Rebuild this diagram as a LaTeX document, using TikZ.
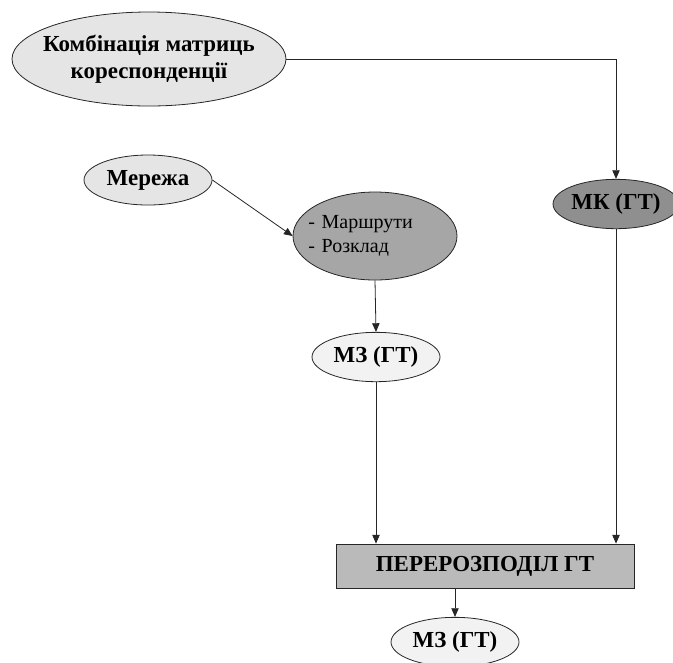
\documentclass[tikz,border=0pt]{standalone}
\usepackage{fontspec}
\setmainfont{Liberation Serif}
\usetikzlibrary{shapes.geometric}
\usetikzlibrary{arrows.meta}
\usetikzlibrary{calc}

\tikzset{
	oval/.style={ellipse, draw=black!85, line width=0.6pt, inner xsep=-10pt, inner ysep=0pt,
		font=\fontsize{17.2}{20.5}\selectfont\bfseries, align=center},
	box/.style={rectangle, draw=black!85, line width=0.6pt,
		font=\fontsize{17.2}{20.5}\selectfont\bfseries},
	arr/.style={-{Triangle[length=6.5pt,width=5.5pt]}, line width=0.6pt, draw=black!85}
}

\begin{document}
\begin{tikzpicture}[x=0.75pt, y=-0.75pt]
	% 673 x 662 px, y downwards
	\useasboundingbox (0,0) rectangle (673,662);
	\node[oval, fill=black!10, minimum width=205.5pt, minimum height=70.5pt] (combo) at (149,59) {Комбінація матриць\\кореспонденції};
	\node[oval, fill=black!10, minimum width=96pt, minimum height=37.5pt] (merezha) at (148,180) {Мережа};
	\node[oval, fill=black!35, minimum width=123pt, minimum height=66pt,
		font=\fontsize{15}{17.5}\selectfont, text width=100pt, align=left] (routes) at (375,236) {- Маршрути\\- Розклад};
	\node[oval, fill=black!44, minimum width=94.5pt, minimum height=37pt] (mk) at (616,204) {МК (ГТ)};
	\node[oval, fill=black!5, minimum width=96pt, minimum height=37pt] (mz) at (376,357) {МЗ (ГТ)};
	\node[box, fill=black!27, minimum width=223.5pt, minimum height=33pt] (redist) at (485,566) {ПЕРЕРОЗПОДІЛ ГТ};
	\node[oval, fill=black!5, minimum width=96pt, minimum height=37pt] (mzout) at (455,642) {МЗ (ГТ)};
	
	% connectors
	\draw[arr] (combo.east) -| (mk.north);
	\draw[arr] (merezha.east) -- (routes.west);
	\draw[arr] (routes.south) -- (mz.north);
	\draw[arr] (mz.south) -- (mz.south |- redist.north);
	\draw[arr] (mk.south) -- (mk.south |- redist.north);
	\draw[arr] (redist.south -| mzout.north) -- (mzout.north);
\end{tikzpicture}
\end{document}
